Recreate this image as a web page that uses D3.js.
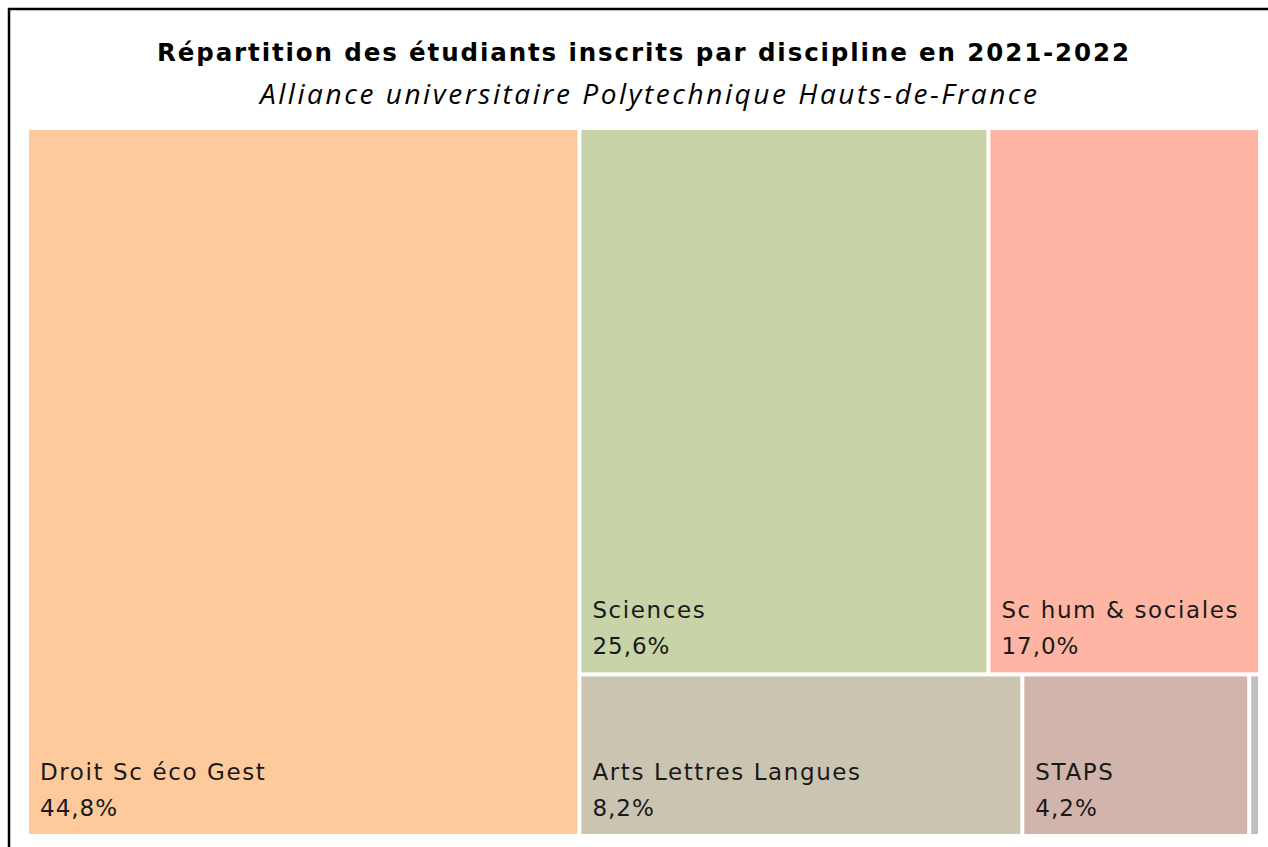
<!DOCTYPE html>
<html>
<head>
<meta charset="utf-8">
<script src="https://cdn.jsdelivr.net/npm/d3@7"></script>
<style>
  body { margin: 0; background: #fff; }
  svg { display: block; }
</style>
</head>
<body>
<svg width="1268" height="847"></svg>
<script>
// données
const disciplines = ["Droit Sc éco Gest", "Sciences", "Sc hum & sociales", "Arts Lettres Langues", "STAPS", "Autres"];
const parts = [44.8, 25.6, 17.0, 8.2, 4.2, 0.2];
const couleurs = ["#FECA9C", "#C8D4A8", "#FEB5A3", "#CAC4B1", "#D1B4AC", "#BFBFBF"];
const showLabel = [true, true, true, true, true, false];

let svg = d3.select("svg");

// cadre
svg.append("rect")
  .attr("x", 9).attr("y", 9)
  .attr("width", 1300).attr("height", 900)
  .attr("fill", "none")
  .attr("stroke", "#000")
  .attr("stroke-width", 2.5);

// titres
svg.append("text")
  .attr("x", 157).attr("y", 61)
  .attr("font-family", "'DejaVu Sans', sans-serif")
  .attr("font-weight", "bold")
  .attr("font-size", 24.5)
  .attr("textLength", 972)
  .attr("lengthAdjust", "spacing")
  .text("Répartition des étudiants inscrits par discipline en 2021-2022");

svg.append("text")
  .attr("x", 260).attr("y", 104)
  .attr("font-family", "'Open Sans', sans-serif")
  .attr("font-style", "italic")
  .attr("font-size", 28)
  .attr("textLength", 777)
  .attr("lengthAdjust", "spacing")
  .text("Alliance universitaire Polytechnique Hauts-de-France");

// treemap
const data = {
  name: "root",
  children: disciplines.map((d, i) => ({ name: d, value: parts[i], color: couleurs[i], label: showLabel[i] }))
};

const root = d3.hierarchy(data).sum(d => d.value || 0);

d3.treemap()
  .tile(d3.treemapSquarify.ratio(1))
  .size([1229, 704])
  .paddingInner(4)
  (root);

const g = svg.append("g").attr("transform", "translate(29,130)");

const cells = g.selectAll("g.cell")
  .data(root.leaves())
  .join("g")
    .attr("class", "cell")
    .attr("transform", d => `translate(${d.x0},${d.y0})`);

cells.append("rect")
  .attr("width", d => d.x1 - d.x0)
  .attr("height", d => d.y1 - d.y0)
  .attr("fill", d => d.data.color);

const lab = cells.filter(d => d.data.label);

lab.append("text")
  .attr("x", 11)
  .attr("y", d => d.y1 - d.y0 - 54)
  .attr("font-family", "'DejaVu Sans', sans-serif")
  .attr("font-size", 23)
  .attr("letter-spacing", 1.6)
  .attr("fill", "#1a1a1a")
  .text(d => d.data.name);

lab.append("text")
  .attr("x", 11)
  .attr("y", d => d.y1 - d.y0 - 18)
  .attr("font-family", "'DejaVu Sans', sans-serif")
  .attr("font-size", 23)
  .attr("letter-spacing", 1.0)
  .attr("fill", "#1a1a1a")
  .text(d => d.data.value.toFixed(1).replace(".", ",") + "%");
</script>
</body>
</html>
